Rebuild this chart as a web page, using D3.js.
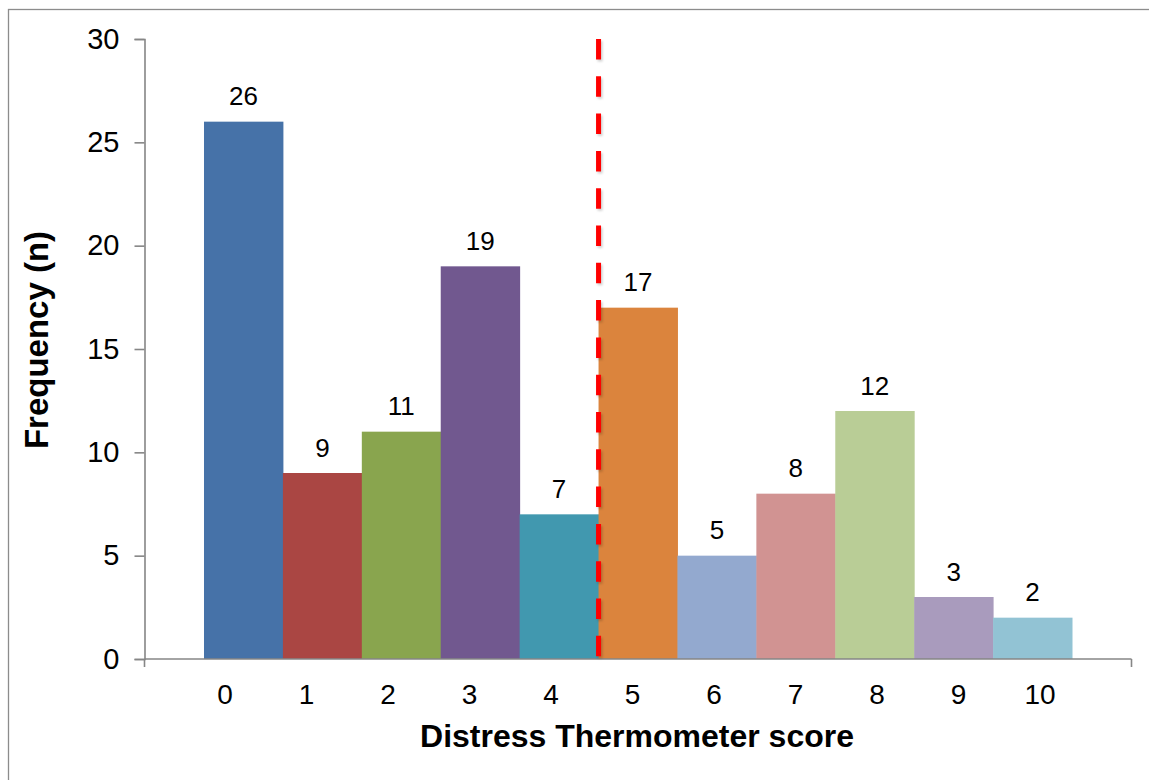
<!DOCTYPE html>
<html><head><meta charset="utf-8">
<script src="https://cdn.jsdelivr.net/npm/d3@7"></script>
<style>body{margin:0;background:#fff}svg{display:block}text{font-family:"Liberation Sans",Arial,sans-serif}</style>
</head><body>
<svg id="c" width="1149" height="780"></svg>
<script>
const categories = ["0","1","2","3","4","5","6","7","8","9","10"];
const values = [26, 9, 11, 19, 7, 17, 5, 8, 12, 3, 2];
const colors = ["#4672A8","#AA4643","#89A54E","#71588F","#4198AF","#DB843D","#93A9CF","#D19392","#B9CD96","#A99BBD","#92C3D4"];
const yTicks = [0, 5, 10, 15, 20, 25, 30];
const cutoffCategory = "5";
const xTitle = "Distress Thermometer score";
const yTitle = "Frequency (n)";

const svg = d3.select("#c");
const L = 144.5, R = 1131.5, T = 39, B = 659;
const FONT = '"Liberation Sans",Arial,sans-serif';

// frame
svg.append("rect").attr("x", 8.5).attr("y", 9.5).attr("width", 1300).attr("height", 900)
  .attr("fill", "none").attr("stroke", "#8c8c8c").attr("stroke-width", 1.3);

const x = d3.scaleBand().domain(categories).range([L, R]).paddingInner(0).paddingOuter(0.754);
const xl = d3.scalePoint().domain(categories).range([225, 1040]);
const y = d3.scaleLinear().domain([0, 30]).range([B, T]);

// bars
svg.append("g").selectAll("rect").data(values).join("rect")
  .attr("x", (d, i) => x(categories[i]))
  .attr("width", x.bandwidth() + 0.5)
  .attr("y", d => y(d))
  .attr("height", d => y(0) - y(d))
  .attr("fill", (d, i) => colors[i]);

// value labels
svg.append("g").selectAll("text").data(values).join("text")
  .attr("x", (d, i) => x(categories[i]) + x.bandwidth() / 2)
  .attr("y", d => y(d) - 16.5)
  .attr("text-anchor", "middle")
  .attr("font-size", 26)
  .attr("fill", "#000")
  .text(d => d);

// y axis
const yAxis = svg.append("g").attr("transform", `translate(${L},0)`)
  .call(d3.axisLeft(y).tickValues(yTicks).tickSize(10).tickPadding(15).tickFormat(d3.format("d")));
yAxis.select(".domain").attr("stroke", "#868686").attr("stroke-width", 1.6);
yAxis.selectAll(".tick line").attr("stroke", "#868686").attr("stroke-width", 1.6);
yAxis.selectAll(".tick text").attr("font-size", 29).attr("fill", "#000").attr("font-family", FONT);

// x axis line with end ticks
const xAxisG = svg.append("g");
xAxisG.append("line").attr("x1", L).attr("x2", R).attr("y1", B).attr("y2", B)
  .attr("stroke", "#868686").attr("stroke-width", 1.6);
[L, R].forEach(px => xAxisG.append("line").attr("x1", px).attr("x2", px).attr("y1", B).attr("y2", B + 8)
  .attr("stroke", "#868686").attr("stroke-width", 1.6));
xAxisG.selectAll("text.xl").data(categories).join("text").attr("class", "xl")
  .attr("x", d => xl(d)).attr("y", 703.5)
  .attr("text-anchor", "middle").attr("font-size", 28).attr("fill", "#000").text(d => d);

// cutoff dashed line
const cx = x(cutoffCategory);
svg.append("line").attr("x1", cx + 1.5).attr("x2", cx + 1.5).attr("y1", T + 2).attr("y2", B + 2)
  .attr("stroke", "#000").attr("stroke-opacity", 0.18).attr("stroke-width", 5)
  .attr("stroke-dasharray", "20.5,16.8").style("filter", "blur(1px)");
svg.append("line").attr("x1", cx).attr("x2", cx).attr("y1", T).attr("y2", B)
  .attr("stroke", "#FF0000").attr("stroke-width", 5).attr("stroke-dasharray", "20.5,16.8");

// titles
svg.append("text").attr("x", 637).attr("y", 747).attr("text-anchor", "middle")
  .attr("font-size", 32).attr("font-weight", "bold").attr("fill", "#000").text(xTitle);
svg.append("text").attr("transform", "translate(48,340) rotate(-90)").attr("text-anchor", "middle")
  .attr("font-size", 33).attr("font-weight", "bold").attr("fill", "#000").text(yTitle);
</script>
</body></html>
